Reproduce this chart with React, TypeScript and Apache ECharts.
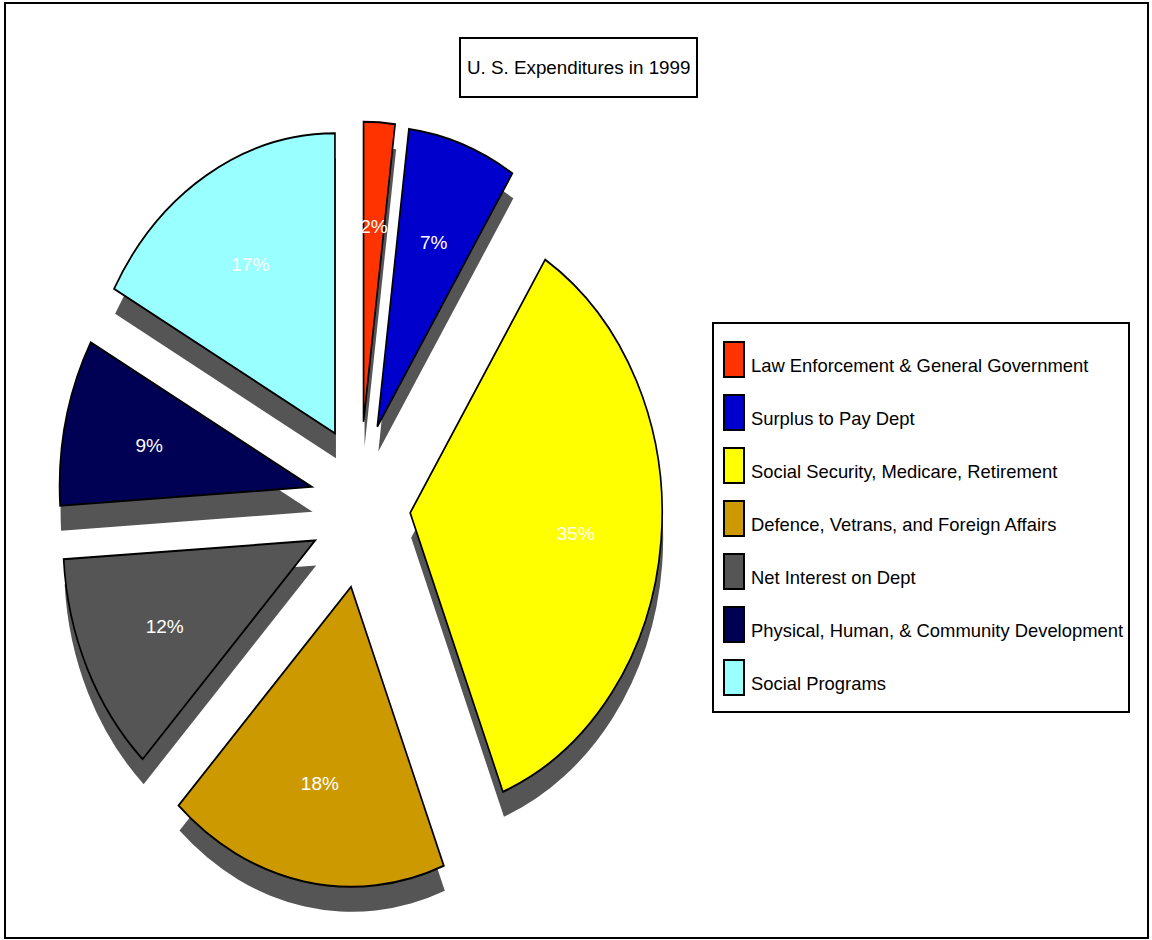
import React, { useEffect, useRef } from "react";
import * as echarts from "echarts";

const categories = [
  "Law Enforcement & General Government",
  "Surplus to Pay Dept",
  "Social Security, Medicare, Retirement",
  "Defence, Vetrans, and Foreign Affairs",
  "Net Interest on Dept",
  "Physical, Human, & Community Development",
  "Social Programs",
];
const values = [2, 7, 35, 18, 12, 9, 17];
const percentLabels = ["2%", "7%", "35%", "18%", "12%", "9%", "17%"];
const colors = ["#FF3300", "#0000CC", "#FFFF00", "#CC9900", "#555555", "#000055", "#99FFFF"];
const titleText = "U. S. Expenditures in 1999";

// layout constants
const CX = 360.4;
const CY = 505;
const RX = 252;
const RY = 300;
const EX = 50;
const EY = 83.3;
const SHX = 1;
const SHY = 25;
const LABEL_F = 0.66;
const FONT = "'Liberation Sans', Arial, sans-serif";

const total = values.reduce((a, b) => a + b, 0);
const starts = values.map((_, i) => values.slice(0, i).reduce((a, b) => a + b, 0));

function geom(start: number, val: number) {
  const a0 = (start / total) * Math.PI * 2;
  const a1 = ((start + val) / total) * Math.PI * 2;
  const m = (a0 + a1) / 2;
  const tx = CX + EX * Math.sin(m);
  const ty = CY - EY * Math.cos(m);
  return { a0, a1, m, tx, ty };
}

export default function App() {
  const ref = useRef<HTMLDivElement>(null);
  useEffect(() => {
    if (!ref.current) return;
    const chart = echarts.init(ref.current, null, { renderer: "svg" });

    const sliceSeries = categories.map((name, i) => ({
      type: "custom",
      name,
      coordinateSystem: "none",
      z: 3,
      itemStyle: { color: colors[i] },
      data: [[starts[i], values[i], i]],
      renderItem: (params: any, api: any) => {
        const start = api.value(0);
        const val = api.value(1);
        const idx = api.value(2);
        const g = geom(start, val);
        return {
          type: "group",
          children: [
            {
              type: "sector",
              x: g.tx,
              y: g.ty,
              scaleX: RX / RY,
              scaleY: 1,
              shape: {
                cx: 0,
                cy: 0,
                r0: 0,
                r: RY,
                startAngle: g.a0 - Math.PI / 2,
                endAngle: g.a1 - Math.PI / 2,
                clockwise: true,
              },
              style: {
                fill: api.visual("color"),
                stroke: "#000000",
                lineWidth: 2,
                strokeNoScale: true,
              },
            },
            {
              type: "text",
              x: g.tx + LABEL_F * RX * Math.sin(g.m),
              y: g.ty - LABEL_F * RY * Math.cos(g.m) + 2,
              style: {
                text: percentLabels[idx],
                fill: "#ffffff",
                fontSize: 19,
                fontFamily: FONT,
                align: "center",
                verticalAlign: "middle",
              },
            },
          ],
        };
      },
    }));

    const shadowSeries = {
      type: "custom",
      name: "shadow",
      coordinateSystem: "none",
      silent: true,
      z: 1,
      data: values.map((v, i) => [starts[i], v]),
      renderItem: (params: any, api: any) => {
        const g = geom(api.value(0), api.value(1));
        return {
          type: "sector",
          x: g.tx + SHX,
          y: g.ty + SHY,
          scaleX: RX / RY,
          scaleY: 1,
          shape: {
            cx: 0,
            cy: 0,
            r0: 0,
            r: RY,
            startAngle: g.a0 - Math.PI / 2,
            endAngle: g.a1 - Math.PI / 2,
            clockwise: true,
          },
          style: { fill: "#555555" },
        };
      },
    };

    chart.setOption({
      animation: false,
      backgroundColor: "#ffffff",
      title: {
        text: titleText,
        left: 460,
        top: 38,
        padding: [19, 7, 19, 7],
        borderColor: "#000000",
        borderWidth: 2,
        textStyle: {
          fontFamily: FONT,
          fontSize: 18.8,
          fontWeight: "normal",
          color: "#000000",
          lineHeight: 21,
        },
      },
      legend: {
        data: categories,
        orient: "vertical",
        left: 723,
        top: 341,
        padding: 0,
        itemWidth: 20,
        itemHeight: 35,
        itemGap: 16,
        icon: "rect",
        selectedMode: false,
        itemStyle: { borderColor: "#000000", borderWidth: 2 },
        formatter: (name: string) => "{a|" + name + "}",
        textStyle: {
          fontFamily: FONT,
          fontSize: 18.4,
          color: "#000000",
          rich: {
            a: {
              fontFamily: FONT,
              fontSize: 18.4,
              color: "#000000",
              padding: [12, 0, 0, 2],
            },
          },
        },
      },
      graphic: [
        {
          type: "rect",
          shape: { x: 5, y: 3, width: 1143, height: 935 },
          style: { fill: "none", stroke: "#000000", lineWidth: 2 },
          z: 0,
        },
        {
          type: "rect",
          shape: { x: 713, y: 323, width: 416, height: 389 },
          style: { fill: "#ffffff", stroke: "#000000", lineWidth: 2 },
          z: 0,
        },
      ],
      series: [shadowSeries, ...sliceSeries],
    });
    return () => chart.dispose();
  }, []);
  return (
    <div
      ref={ref}
      style={{ position: "absolute", left: 0, top: 0, width: 1152, height: 940 }}
    />
  );
}
